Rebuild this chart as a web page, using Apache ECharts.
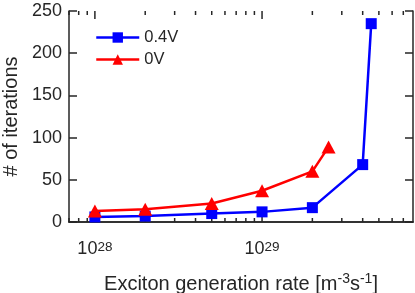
<!DOCTYPE html>
<html>
<head>
<meta charset="utf-8">
<script src="https://cdn.jsdelivr.net/npm/echarts@6/dist/echarts.min.js"></script>
<style>html,body{margin:0;padding:0;background:#fff}#c{width:415px;height:293px}</style>
</head>
<body>
<div id="c"></div>
<script>
var rates04 = [1e28, 2e28, 5e28, 1e29, 2e29, 4e29, 4.5e29];
var iters04 = [6, 7, 10, 12, 17, 68, 235];
var rates0 = [1e28, 2e28, 5e28, 1e29, 2e29, 2.5e29];
var iters0 = [13, 15, 22, 37, 60, 89];
var seriesNames = ['0.4V', '0V'];
var xMin = 7e27, xMax = 8e29;
var yTicks = [0, 50, 100, 150, 200, 250];
var majorX = [1e28, 1e29];
var minorX = [7e27, 8e27, 9e27, 2e28, 3e28, 4e28, 5e28, 6e28, 7e28, 8e28, 9e28,
              2e29, 3e29, 4e29, 5e29, 6e29, 7e29];

var FONT = 'Liberation Sans, Arial, Helvetica, sans-serif';
var AX = '#262626';

function pairs(xs, ys) { return xs.map(function (x, i) { return [x, ys[i]]; }); }

var tickData = majorX.map(function (v) { return [v, 1]; })
  .concat(minorX.map(function (v) { return [v, 0]; }));

var chart = echarts.init(document.getElementById('c'), null, { renderer: 'canvas' });
chart.setOption({
  animation: false,
  textStyle: { fontFamily: FONT },
  grid: { left: 69, right: 2, top: 11, bottom: 71, show: false, containLabel: false, outerBoundsMode: 'none' },
  legend: {
    orient: 'vertical',
    left: 90, top: 24,
    itemWidth: 43, itemHeight: 13, itemGap: 5,
    lineStyle: { width: 2.5 },
    textStyle: { fontSize: 16.5, color: AX, fontFamily: FONT, padding: [0, 0, 0, 0] },
    data: seriesNames
  },
  xAxis: [{
    type: 'log', logBase: 10, min: xMin, max: xMax,
    position: 'bottom',
    axisLine: { show: true, lineStyle: { color: AX, width: 1.5 } },
    axisTick: { show: false },
    splitLine: { show: false },
    axisLabel: {
      margin: 18, color: AX, fontSize: 18, fontFamily: FONT,
      showMinLabel: false, showMaxLabel: false,
      formatter: function (v) {
        var e = Math.log10(v);
        if (Math.abs(e - Math.round(e)) < 1e-6) return '10{sup|' + Math.round(e) + '}';
        return '';
      },
      rich: { sup: { fontSize: 13.5, verticalAlign: 'top', padding: [0, 0, 5, 0], color: AX, fontFamily: FONT } }
    },
    name: 'Exciton generation rate [m{sup|-3}s{sup|-1}]',
    nameLocation: 'middle', nameGap: 50,
    nameTextStyle: {
      fontSize: 20, color: AX, fontFamily: FONT,
      rich: { sup: { fontSize: 14, padding: [0, 0, 10, 0], color: AX, fontFamily: FONT } }
    }
  }, {
    type: 'log', logBase: 10, min: xMin, max: xMax,
    position: 'top',
    axisLine: { show: true, lineStyle: { color: AX, width: 1.5 } },
    axisTick: { show: false }, axisLabel: { show: false }, splitLine: { show: false }
  }],
  yAxis: [{
    type: 'value', min: 0, max: 250, interval: 50,
    position: 'left',
    axisLine: { show: true, lineStyle: { color: AX, width: 1.5 } },
    axisTick: { show: true, inside: true, length: 8, lineStyle: { color: AX, width: 1.5 } },
    splitLine: { show: false },
    axisLabel: { margin: 7, color: AX, fontSize: 18, fontFamily: FONT,
      formatter: function (v) { return yTicks.indexOf(v) >= 0 ? String(v) : ''; } },
    name: '# of iterations', nameLocation: 'middle', nameGap: 41, nameRotate: 90,
    nameTextStyle: { fontSize: 20, color: AX, fontFamily: FONT }
  }, {
    type: 'value', min: 0, max: 250, interval: 50,
    position: 'right',
    axisLine: { show: true, lineStyle: { color: AX, width: 1.5 } },
    axisTick: { show: true, inside: true, length: 8, lineStyle: { color: AX, width: 1.5 } },
    axisLabel: { show: false }, splitLine: { show: false }
  }],
  series: [{
    type: 'custom',
    xAxisIndex: 0, yAxisIndex: 0,
    silent: true, clip: false, z: 1,
    legendHoverLink: false,
    data: tickData,
    renderItem: function (params, api) {
      var x = api.value(0), major = api.value(1) === 1;
      var len = major ? 8 : 4;
      var b = api.coord([x, 0]);
      var t = api.coord([x, 250]);
      var st = { stroke: AX, lineWidth: 1.5 };
      return { type: 'group', children: [
        { type: 'line', shape: { x1: b[0], y1: b[1], x2: b[0], y2: b[1] - len }, style: st },
        { type: 'line', shape: { x1: t[0], y1: t[1], x2: t[0], y2: t[1] + len }, style: st }
      ] };
    }
  }, {
    name: seriesNames[0], type: 'line',
    data: pairs(rates04, iters04),
    symbol: 'rect', symbolSize: 11,
    lineStyle: { color: '#0000ff', width: 2.5 },
    itemStyle: { color: '#0000ff' },
    z: 3
  }, {
    name: seriesNames[1], type: 'line',
    data: pairs(rates0, iters0),
    symbol: 'triangle', symbolSize: [14, 13],
    lineStyle: { color: '#ff0000', width: 2.5 },
    itemStyle: { color: '#ff0000' },
    z: 4
  }]
});
</script>
</body>
</html>
